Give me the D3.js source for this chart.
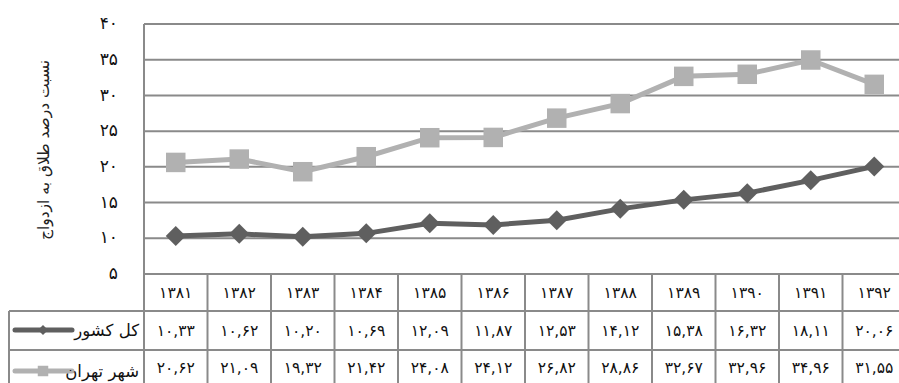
<!DOCTYPE html>
<html><head><meta charset="utf-8">
<script src="https://cdn.jsdelivr.net/npm/d3@7"></script>
<style>body{margin:0;background:#fff}svg{display:block}</style>
</head><body>
<script>
const years = [1381,1382,1383,1384,1385,1386,1387,1388,1389,1390,1391,1392];
const country = [10.33,10.62,10.20,10.69,12.09,11.87,12.53,14.12,15.38,16.32,18.11,20.06];
const tehran = [20.62,21.09,19.32,21.42,24.08,24.12,26.82,28.86,32.67,32.96,34.96,31.55];
const yTicks = [5,10,15,20,25,30,35,40];
const seriesNames = ["کل کشور","شهر تهران"];
const yTitle = "نسبت درصد طلاق به ازدواج";

(function(){
const W=899,H=383;
const fa = s => String(s).replace(/\d/g,d=>"۰۱۲۳۴۵۶۷۸۹"[d]);
const fmt = v => fa(v.toFixed(2).replace(".",","));
const font = "DejaVu Sans";
const grid = "#8a8a8a";

const svg = d3.select("body").append("svg").attr("width",W).attr("height",H);
const pLeft=144, colW=63.5, pTop=24, pBottom=274;
const x = d3.scaleBand().domain(years).range([pLeft,pLeft+colW*years.length]).padding(0);
const y = d3.scaleLinear().domain([5,40]).range([pBottom,pTop]);

svg.append("g").selectAll("line").data(yTicks).join("line")
 .attr("x1",pLeft).attr("x2",W).attr("y1",d=>y(d)).attr("y2",d=>y(d))
 .attr("stroke",grid).attr("stroke-width",2);
svg.append("line").attr("x1",pLeft).attr("x2",pLeft).attr("y1",pTop).attr("y2",H)
 .attr("stroke",grid).attr("stroke-width",2);

svg.append("g").selectAll("text").data(yTicks).join("text")
 .attr("x",118).attr("y",d=>y(d)).attr("dy","0.3em").attr("text-anchor","end")
 .attr("font-family",font).attr("font-size",17).attr("fill","#111").text(d=>fa(d));

svg.append("text").attr("transform","translate(44,150) rotate(-90)")
 .attr("text-anchor","middle").attr("dy","0.35em").attr("font-family",font)
 .attr("font-size",15.5).attr("fill","#222").text(yTitle);

const r1=274,r2=311,r3=350;
const tg = svg.append("g").attr("stroke",grid).attr("stroke-width",2);
tg.append("line").attr("x1",9).attr("x2",W).attr("y1",r2).attr("y2",r2);
tg.append("line").attr("x1",9).attr("x2",W).attr("y1",r3).attr("y2",r3);
tg.append("line").attr("x1",9).attr("x2",9).attr("y1",r2).attr("y2",H);
tg.selectAll("line.c").data(years.slice(1)).join("line").attr("class","c")
 .attr("x1",d=>x(d)).attr("x2",d=>x(d)).attr("y1",r1).attr("y2",H);

const cx = d=>x(d)+x.bandwidth()/2;
const tt = svg.append("g").attr("font-family",font).attr("font-size",15.5).attr("fill","#111").attr("text-anchor","middle");
tt.selectAll("text.y").data(years).join("text").attr("class","y").attr("x",cx).attr("y",293).attr("dy","0.35em").text(d=>fa(d));
tt.selectAll("text.a").data(country).join("text").attr("class","a").attr("x",(d,i)=>cx(years[i])).attr("y",331).attr("dy","0.35em").text(d=>fmt(d));
tt.selectAll("text.b").data(tehran).join("text").attr("class","b").attr("x",(d,i)=>cx(years[i])).attr("y",368).attr("dy","0.35em").text(d=>fmt(d));

const line = d3.line().x((d,i)=>cx(years[i])).y(d=>y(d));
const cols = ["#5f5f5f","#b1b1b1"];
svg.append("path").datum(tehran).attr("d",line).attr("fill","none").attr("stroke",cols[1]).attr("stroke-width",5);
svg.append("g").selectAll("path").data(tehran).join("path")
 .attr("transform",(d,i)=>`translate(${cx(years[i])},${y(d)})`)
 .attr("d",d3.symbol(d3.symbolSquare,380)()).attr("fill",cols[1]);
svg.append("path").datum(country).attr("d",line).attr("fill","none").attr("stroke",cols[0]).attr("stroke-width",5);
svg.append("g").selectAll("path").data(country).join("path")
 .attr("transform",(d,i)=>`translate(${cx(years[i])},${y(d)}) rotate(45)`)
 .attr("d",d3.symbol(d3.symbolSquare,200)()).attr("fill",cols[0]);

const leg=[{y:330,c:cols[0],sym:"d"},{y:371,c:cols[1],sym:"s"}];
leg.forEach((l,i)=>{
 svg.append("line").attr("x1",15).attr("x2",72).attr("y1",l.y).attr("y2",l.y).attr("stroke",l.c).attr("stroke-width",5).attr("stroke-linecap","round");
 if(l.sym==="d") svg.append("path").attr("transform",`translate(43,${l.y}) rotate(45)`).attr("d",d3.symbol(d3.symbolSquare,50)()).attr("fill",l.c);
 else svg.append("path").attr("transform",`translate(43,${l.y})`).attr("d",d3.symbol(d3.symbolSquare,110)()).attr("fill",l.c);
 svg.append("text").attr("x",139).attr("y",l.y).attr("dy","0.35em").attr("text-anchor","end")
  .attr("font-family",font).attr("font-size",16.5).attr("fill","#111").text(seriesNames[i]);
});
})();
</script>
</body></html>
